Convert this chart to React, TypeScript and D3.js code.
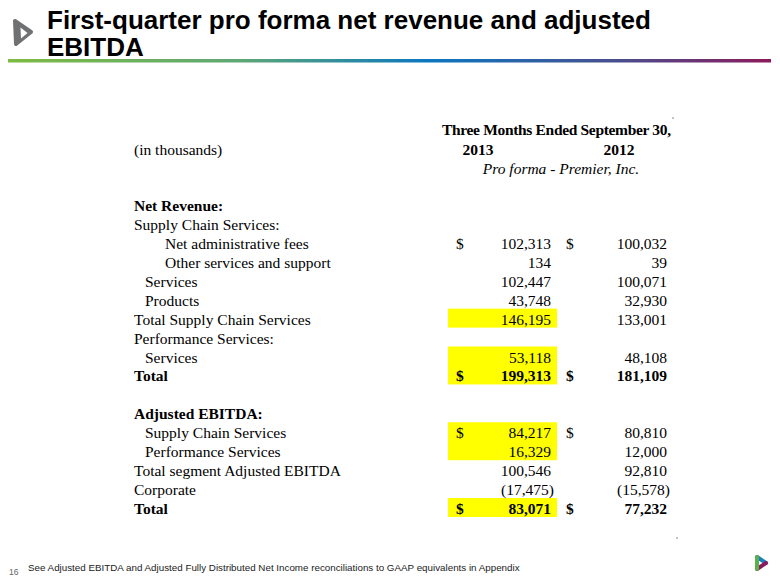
import React from "react";
import * as d3 from "d3";

// table content
const rowLabels = [
  "Net Revenue:",
  "Supply Chain Services:",
  "Net administrative fees",
  "Other services and support",
  "Services",
  "Products",
  "Total Supply Chain Services",
  "Performance Services:",
  "Services",
  "Total",
  "",
  "Adjusted EBITDA:",
  "Supply Chain Services",
  "Performance Services",
  "Total segment Adjusted EBITDA",
  "Corporate",
  "Total",
];
const values2013: (number | null)[] = [
  null, null, 102313, 134, 102447, 43748, 146195, null, 53118, 199313,
  null, null, 84217, 16329, 100546, -17475, 83071,
];
const values2012: (number | null)[] = [
  null, null, 100032, 39, 100071, 32930, 133001, null, 48108, 181109,
  null, null, 80810, 12000, 92810, -15578, 77232,
];
const indentLevel = [0, 0, 2, 2, 1, 1, 0, 0, 1, 0, 0, 0, 1, 1, 0, 0, 0];
const boldRows = [0, 9, 11, 16];
const dollarRows = [2, 9, 12, 16];
// groups of rows highlighted in the 2013 column
const highlightGroups = [[6, 6], [8, 9], [12, 13], [16, 16]];

const yearLabels = ["2013", "2012"];
const titleLines = ["First-quarter pro forma net revenue and adjusted", "EBITDA"];
const footnote =
  "See Adjusted EBITDA and Adjusted Fully Distributed Net Income reconciliations to GAAP equivalents in Appendix";

const W = 780;
const H = 585;
const serif = "'Liberation Serif', 'Times New Roman', serif";
const sans = "'Liberation Sans', Arial, sans-serif";

const fmt = (v: number) =>
  v < 0 ? `(${d3.format(",")(-v)})` : d3.format(",")(v);

export default function App() {
  const y = d3
    .scalePoint<number>()
    .domain(d3.range(rowLabels.length))
    .range([211, 514]);
  const indentX = d3.scaleLinear().domain([0, 1, 2]).range([134, 145, 165]);
  const yearX = d3.scalePoint<string>().domain(yearLabels).range([478, 619]);

  const col1Dollar = 456;
  const col1Right = 551;
  const col2Dollar = 566;
  const col2Right = 667;
  const fs = 15.5;

  return (
    <svg
      width={W}
      height={H}
      style={{ position: "absolute", left: 0, top: 0, background: "#fff" }}
    >
      <defs>
        <linearGradient id="rule" x1="0" x2="1" y1="0" y2="0">
          <stop offset="0" stopColor="#7dbb42" />
          <stop offset="0.3" stopColor="#5fa874" />
          <stop offset="0.55" stopColor="#0b77c0" />
          <stop offset="0.8" stopColor="#4a4e8e" />
          <stop offset="1" stopColor="#8c1a5c" />
        </linearGradient>
      </defs>

      {/* logo */}
      <path
        d="M15,21 L31,32 L16,44 Z"
        fill="#707173"
        stroke="#707173"
        strokeWidth={4}
        strokeLinejoin="round"
      />
      <path d="M20.5,27.5 L27.5,33 L21,38.5 Z" fill="#fff" />

      {/* title */}
      {titleLines.map((t, i) => (
        <text
          key={i}
          x={47}
          y={29 + i * 27}
          fontFamily={sans}
          fontWeight="bold"
          fontSize={26}
          fill="#000"
        >
          {t}
        </text>
      ))}
      <rect x={8} y={59} width={763} height={3.5} fill="url(#rule)" />

      {/* header */}
      <text
        x={442}
        y={135}
        fontFamily={serif}
        fontSize={fs}
        fontWeight="bold"
        textLength={229}
        lengthAdjust="spacing"
      >
        Three Months Ended September 30,
      </text>
      <text x={134} y={155} fontFamily={serif} fontSize={fs}>
        (in thousands)
      </text>
      {yearLabels.map((yr) => (
        <text
          key={yr}
          x={yearX(yr)}
          y={155}
          textAnchor="middle"
          fontFamily={serif}
          fontSize={fs}
          fontWeight="bold"
        >
          {yr}
        </text>
      ))}
      <text
        x={561}
        y={174}
        textAnchor="middle"
        fontFamily={serif}
        fontSize={fs}
        fontStyle="italic"
      >
        Pro forma - Premier, Inc.
      </text>

      {/* highlights */}
      {highlightGroups.map(([a, b], i) => (
        <rect
          key={i}
          x={448}
          y={(y(a) as number) - 16}
          width={109}
          height={(y(b) as number) - (y(a) as number) + 19}
          fill="#ffff00"
        />
      ))}

      {/* rows */}
      {rowLabels.map((label, i) => {
        const yy = y(i) as number;
        const bold = boldRows.includes(i);
        const dollar = dollarRows.includes(i);
        const v1 = values2013[i];
        const v2 = values2012[i];
        const common = {
          fontFamily: serif,
          fontSize: fs,
          fontWeight: bold ? "bold" : "normal",
          fill: "#000",
        };
        return (
          <g key={i}>
            <text x={indentX(indentLevel[i])} y={yy} {...common}>
              {label}
            </text>
            {dollar && (
              <>
                <text x={col1Dollar} y={yy} {...common}>
                  $
                </text>
                <text x={col2Dollar} y={yy} {...common}>
                  $
                </text>
              </>
            )}
            {v1 !== null && (
              <text
                x={v1 < 0 ? col1Right + 3 : col1Right}
                y={yy}
                textAnchor="end"
                {...common}
              >
                {fmt(v1)}
              </text>
            )}
            {v2 !== null && (
              <text
                x={v2 < 0 ? col2Right + 3 : col2Right}
                y={yy}
                textAnchor="end"
                {...common}
              >
                {fmt(v2)}
              </text>
            )}
          </g>
        );
      })}

      {/* stray marks */}
      <circle cx={673} cy={118} r={0.8} fill="#777" />
      <circle cx={677} cy={538} r={0.8} fill="#777" />

      {/* footer */}
      <text x={9} y={575} fontFamily={sans} fontSize={8.5} fill="#666">
        16
      </text>
      <text x={28} y={571} fontFamily={sans} fontSize={9.8} fill="#222">
        {footnote}
      </text>

      {/* small colour logo */}
      <g strokeWidth={4} strokeLinecap="round" fill="none">
        <line x1={757} y1={557} x2={766} y2={563} stroke="#1a7fc1" />
        <line x1={766} y1={563} x2={757} y2={569} stroke="#8a1b61" />
        <line x1={757} y1={569} x2={757} y2={557} stroke="#5cb04a" />
      </g>
    </svg>
  );
}
